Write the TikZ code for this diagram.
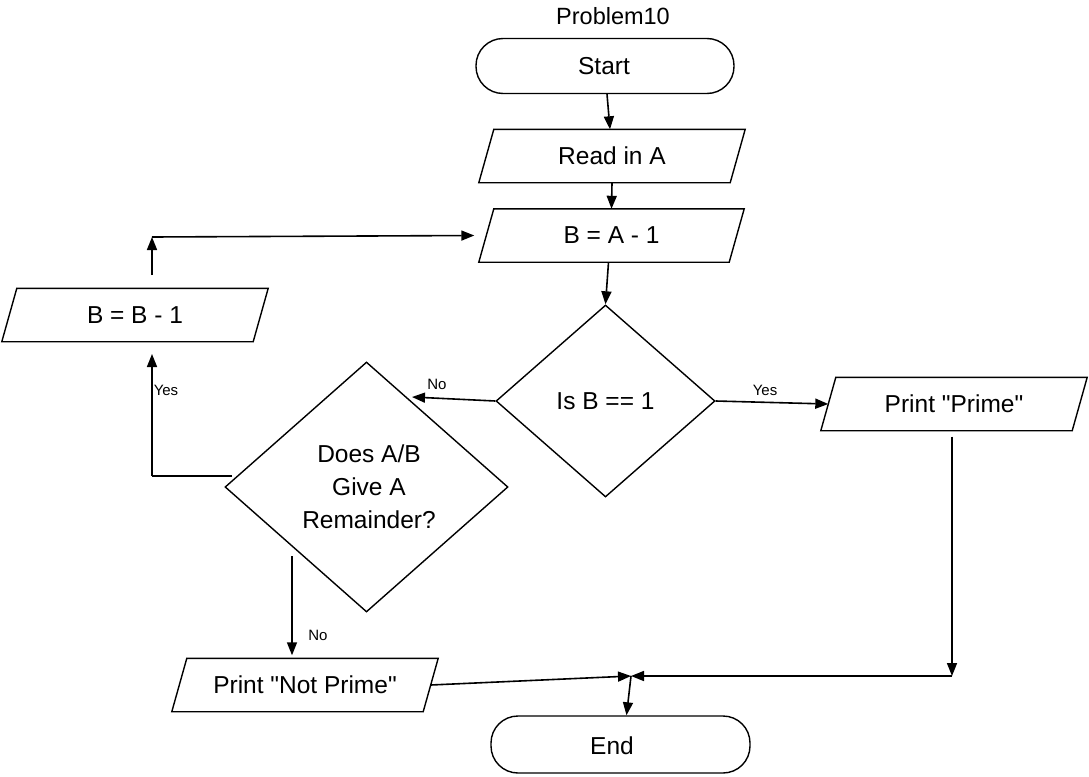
\documentclass[tikz,border=0pt]{standalone}
\usepackage{fontspec}
\setmainfont{Liberation Sans}[Ligatures=TeXOff]
\usetikzlibrary{shapes.geometric,arrows.meta}
\newcommand\mypara[5]{%
  \node[txt, minimum width=#4, minimum height=53] (#1) at (#2,#3) {#5};
  \draw[shp] ([xshift=7.5]#1.north west) -- ([xshift=7.5]#1.north east) -- ([xshift=-7.5]#1.south east) -- ([xshift=-7.5]#1.south west) -- cycle;}
\begin{document}
\begin{tikzpicture}[x=1pt,y=-1pt,
  txt/.style={inner sep=0pt, font=\fontsize{24.5}{33}\selectfont, align=center},
  shp/.style={line width=1.4pt, line join=miter},
  term/.style={txt, draw, line width=1.4pt, rounded corners=27pt},
  dia/.style={txt, draw, diamond, line width=1.4pt},
  arr/.style={line width=1.6pt, -{Triangle[length=13pt,width=10pt]}},
  lnk/.style={line width=1.6pt},
  lbl/.style={inner sep=0pt, font=\fontsize{15}{18}\selectfont}]
\useasboundingbox[fill=white] (0,0) rectangle (1089,776);
\node[txt, font=\fontsize{23.5}{28}\selectfont] (title) at (613,16) {Problem10};
\node[term, minimum width=258, minimum height=55] (start) at (605,66) {};
\node[txt] (startt) at (604,66) {Start};
\mypara{read}{612}{156}{251}{Read in A}
\mypara{bam}{611.5}{235.5}{250}{B = A - 1}
\node[dia, minimum width=219, minimum height=192] (d1) at (605.5,401) {Is B == 1};
\mypara{pp}{954}{404}{251}{Print "Prime"}
\mypara{bbm}{135}{315}{251}{B = B - 1}
\node[dia, minimum width=283, minimum height=250] (d2) at (366.5,487) {};
\node[txt] (d2t) at (369,487) {Does A/B\\Give A\\Remainder?};
\mypara{npp}{305}{685}{251}{Print "Not Prime"}
\node[term, minimum width=259, minimum height=57] (end) at (620.5,744.5) {};
\node[txt] (endt) at (612,746) {End};
% coordinates
\coordinate (nohit) at (412,397);
\coordinate (d2l) at (232,476);
\coordinate (bbmin) at (152,354);
\coordinate (bbmout) at (152,275);
\coordinate (corner) at (152,237);
\coordinate (d2b) at (292,556);
\coordinate (junc) at (631,676);
\coordinate (ppcorner) at (952,676);
% connectors
\draw[arr] ([xshift=2]start.south) -- ([xshift=-2]read.north);
\draw[arr] (read.south) -- (bam.north);
\draw[arr] ([xshift=-3]bam.south) -- (d1.north);
\draw[arr] (d1.west) -- (nohit);
\node[lbl] (no1) at (437,384) {No};
\draw[arr] (d1.east) -- (pp.west);
\node[lbl] (yes1) at (765,390) {Yes};
\draw[lnk] (d2l) -- (152,476);
\draw[arr] (152,476) -- (bbmin);
\node[lbl] (yes2) at (166,390) {Yes};
\draw[arr] (bbmout) -- (corner);
\draw[arr] (corner) -- ([xshift=-12]bam.west);
\draw[arr] (d2b) -- ([xshift=-13,yshift=3]npp.north);
\node[lbl] (no2) at (318,635) {No};
\draw[arr] (npp.east) -- (junc);
\draw[arr] ([xshift=-2,yshift=-6]pp.south) -- (ppcorner);
\draw[arr] (ppcorner) -- (junc);
\draw[arr] (junc) -- ([xshift=6]end.north);
\end{tikzpicture}
\end{document}
